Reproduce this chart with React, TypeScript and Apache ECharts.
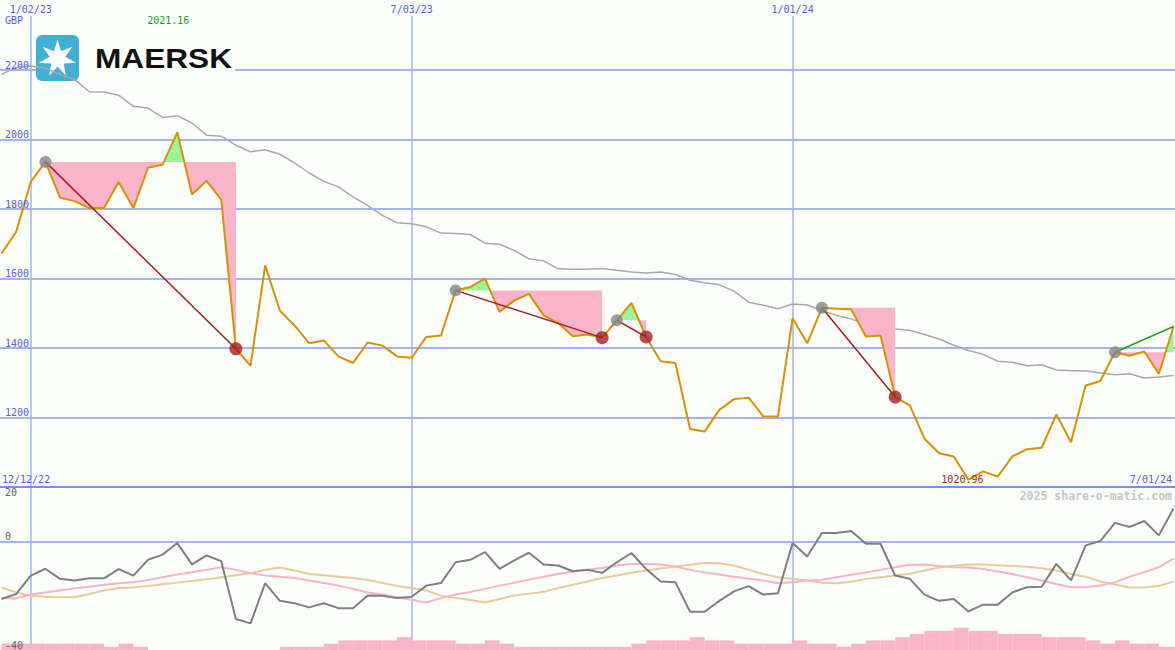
import React, { useEffect, useRef } from 'react';
import * as echarts from 'echarts';

// weekly closes (index 0..80)
const price = [
  1672, 1734, 1878, 1936, 1833, 1823, 1803, 1803, 1878, 1803,
  1919, 1928, 2021.16, 1843, 1881, 1827, 1398, 1349, 1638, 1508,
  1465, 1414, 1422, 1376, 1357, 1416, 1407, 1376, 1372, 1432,
  1436, 1566, 1576, 1600, 1504, 1537, 1556, 1494, 1472, 1434,
  1439, 1430, 1480, 1530, 1432, 1362, 1357, 1167, 1160, 1222,
  1253, 1257, 1203, 1203, 1486, 1414, 1516, 1513, 1512, 1433,
  1436, 1259, 1235, 1139, 1097, 1088, 1020.96, 1045, 1030, 1088,
  1109, 1113, 1209, 1129, 1292, 1305, 1388, 1378, 1390, 1326, 1462,
];
const movingAvg = [
  2188, 2208, 2212, 2206, 2188, 2173, 2138, 2137, 2128, 2096,
  2091, 2064, 2069, 2048, 2013, 2010, 1984, 1965, 1971, 1958,
  1933, 1904, 1880, 1864, 1835, 1810, 1782, 1761, 1758, 1749,
  1731, 1730, 1727, 1702, 1699, 1681, 1657, 1651, 1628, 1627,
  1627, 1629, 1624, 1619, 1616, 1619, 1612, 1595, 1588, 1582,
  1564, 1532, 1523, 1513, 1527, 1524, 1508, 1494, 1484, 1468,
  1471, 1455, 1451, 1439, 1426, 1408, 1393, 1382, 1362, 1359,
  1349, 1352, 1337, 1335, 1335, 1328, 1323, 1326, 1314, 1317, 1321,
];
const momentum = [
  -21.2, -19.4, -12.6, -10.1, -13.8, -14.4, -13.6, -13.6, -10.2, -12.6,
  -6.8, -4.9, -0.6, -8.5, -5.2, -7.3, -28.6, -30.2, -15.4, -21.9,
  -22.8, -24.3, -22.8, -24.6, -24.6, -19.9, -20.0, -20.9, -20.4, -16.3,
  -15.3, -7.7, -6.8, -4.0, -10.1, -7.0, -4.2, -8.5, -8.9, -11.0,
  -10.5, -11.6, -7.7, -4.3, -10.2, -14.8, -15.1, -25.9, -25.9, -21.9,
  -18.4, -16.5, -19.6, -19.1, -0.6, -5.6, 3.1, 3.1, 3.8, -0.9,
  -0.9, -12.6, -13.8, -19.6, -21.9, -21.2, -25.8, -23.3, -23.3, -18.8,
  -16.9, -16.7, -8.3, -14.4, -1.5, 0.1, 6.8, 5.3, 7.5, 2.2, 12.1,
];
const signalPink = [
  -20.9, -21.0, -19.6, -18.8, -18.1, -17.3, -16.7, -16.0, -15.4, -15.1,
  -14.2, -13.2, -12.2, -11.4, -10.5, -9.5, -10.5, -11.7, -12.6, -13.0,
  -13.5, -14.4, -15.3, -16.3, -17.5, -18.8, -19.6, -20.6, -21.6, -22.5,
  -20.9, -19.6, -18.6, -17.5, -16.3, -15.3, -14.1, -13.0, -12.0, -11.1,
  -10.5, -9.8, -8.9, -8.3, -8.3, -8.5, -9.3, -10.5, -11.5, -12.2,
  -13.0, -13.8, -14.4, -15.4, -15.1, -14.4, -14.1, -13.2, -12.3, -11.5,
  -10.5, -9.5, -8.6, -8.5, -9.1, -9.5, -9.6, -10.2, -11.1, -12.0,
  -13.2, -14.4, -15.7, -16.9, -16.9, -16.3, -15.1, -13.0, -11.4, -9.5, -6.4,
];
const signalTan = [
  -17.0, -18.8, -20.0, -20.4, -20.6, -20.6, -19.4, -18.1, -17.2, -17.0,
  -16.4, -15.8, -15.2, -14.6, -14.0, -13.2, -12.5, -11.7, -10.5, -9.6,
  -10.7, -12.0, -12.5, -13.0, -13.5, -14.2, -15.3, -16.4, -17.2, -18.1,
  -20.0, -20.9, -21.6, -22.5, -21.2, -19.9, -19.3, -18.6, -17.2, -16.0,
  -14.8, -13.5, -12.6, -11.6, -10.7, -10.0, -9.3, -8.6, -8.0, -8.1,
  -8.9, -10.5, -12.0, -13.2, -13.8, -14.4, -15.2, -15.4, -14.9, -13.9,
  -13.2, -12.6, -11.9, -10.7, -9.6, -9.0, -8.5, -8.5, -8.8, -9.1,
  -9.4, -9.9, -10.7, -12.0, -13.0, -14.8, -15.9, -17.0, -17.0, -16.4, -14.8,
];
const volumeLevel = [
  2, 2, 2, 2, 2, 2, 2, 1, 2, 1,
  0, 0, 0, 0, 0, 0, 0, 0, 0, 1,
  1, 1, 2, 3, 3, 3, 3, 4, 3, 3,
  3, 2, 2, 3, 2, 1, 1, 1, 1, 1,
  1, 1, 1, 2, 3, 3, 3, 4, 3, 3,
  2, 2, 2, 2, 3, 2, 2, 1, 2, 3,
  3, 4, 5, 6, 6, 7, 6, 6, 5, 5,
  5, 4, 4, 4, 3, 2, 3, 2, 2, 1, 1,
];
const tradeEntry = [3, 31, 42, 56, 76];
const tradeExit = [16, 41, 44, 61, 80];
const tradeOpen = [false, false, false, false, true];
const priceGrid = [1200, 1400, 1600, 1800, 2000, 2200];
const dateIndex = [2, 28, 54];
const dateLabels = ['1/02/23', '7/03/23', '1/01/24'];
const startLabel = '12/12/22';
const endLabel = '7/01/24';

const BLUE = '#5a5af0';
const GRID = '#a4b2f2';
const MONO = 'DejaVu Sans Mono';
const RED = '#a31f1f';
const BG = '#fcfefc';

function starPoints(cx: number, cy: number, R: number, r: number) {
  const pts: number[][] = [];
  for (let k = 0; k < 14; k++) {
    const a = -Math.PI / 2 + (k * Math.PI) / 7;
    const rad = k % 2 === 0 ? R : r;
    pts.push([cx + rad * Math.cos(a), cy + rad * Math.sin(a)]);
  }
  return pts;
}

function buildOption() {
  const idx = price.map((_, i) => i);
  const trades = tradeEntry.map((s, k) => [s, tradeExit[k], price[s]]);

  const fillSeries = {
    type: 'custom',
    xAxisIndex: 0,
    yAxisIndex: 0,
    z: 3,
    silent: true,
    data: trades,
    renderItem: (_p: any, api: any) => {
      const s = api.value(0);
      const e = api.value(1);
      const lvl = api.value(2);
      const pts: number[][] = [];
      for (let j = s; j <= e; j++) {
        pts.push([j, price[j]]);
        if (j < e) {
          const a = price[j] - lvl;
          const b = price[j + 1] - lvl;
          if (a * b < 0) pts.push([j + a / (a - b), lvl]);
        }
      }
      const low = [[s, lvl], ...pts.map((p) => [p[0], Math.min(p[1], lvl)]), [e, lvl]].map((p) => api.coord(p));
      const high = [[s, lvl], ...pts.map((p) => [p[0], Math.max(p[1], lvl)]), [e, lvl]].map((p) => api.coord(p));
      return {
        type: 'group',
        children: [
          { type: 'polygon', shape: { points: low }, style: { fill: '#f9b4c9' } },
          { type: 'polygon', shape: { points: high }, style: { fill: '#9af59a' } },
        ],
      };
    },
  };

  const tradeLines = tradeEntry.map((s, k) => ({
    type: 'line',
    xAxisIndex: 0,
    yAxisIndex: 0,
    z: 5,
    silent: true,
    showSymbol: false,
    data: [[s, price[s]], [tradeExit[k], price[tradeExit[k]]]],
    lineStyle: { color: tradeOpen[k] ? '#22a022' : RED, width: 1.5 },
  }));

  const bars = {
    type: 'custom',
    xAxisIndex: 1,
    yAxisIndex: 2,
    z: 1,
    silent: true,
    data: volumeLevel.map((v, i) => [i, v]),
    renderItem: (_p: any, api: any) => {
      const i = api.value(0);
      const v = api.value(1);
      const a = api.coord([i, v]);
      const b = api.coord([i + 1, 0]);
      return { type: 'rect', shape: { x: a[0], y: a[1], width: b[0] - a[0], height: b[1] - a[1] }, style: { fill: '#f9b4c9' } };
    },
  };

  const monoLabel = { fontFamily: MONO, fontSize: 10 };

  return {
    animation: false,
    backgroundColor: BG,
    grid: [
      { left: 0, right: 0, top: 16, height: 471 },
      { left: 0, right: 0, top: 487, height: 163 },
    ],
    xAxis: [
      { gridIndex: 0, type: 'value', min: -0.1, max: 80.1, show: false },
      {
        gridIndex: 1, type: 'value', min: -0.1, max: 80.1, position: 'top',
        axisLine: { show: true, onZero: false, lineStyle: { color: '#7b8bef', width: 2 } },
        axisTick: { show: false }, axisLabel: { show: false }, splitLine: { show: false },
      },
    ],
    yAxis: [
      {
        gridIndex: 0, type: 'value', min: 1000, max: 2356, interval: 200, z: 10,
        axisLine: { show: false }, axisTick: { show: false }, splitLine: { show: false },
        axisLabel: {
          inside: true, margin: 5, verticalAlign: 'bottom', color: BLUE, ...monoLabel,
          formatter: (v: number) => (v >= 1200 && v <= 2200 ? String(v) : ''),
        },
      },
      {
        gridIndex: 1, type: 'value', min: -40, max: 20, interval: 20, z: 10,
        axisLine: { show: false }, axisTick: { show: false }, splitLine: { show: false },
        axisLabel: {
          inside: true, margin: 5, verticalAlign: 'bottom', verticalAlignMaxLabel: 'top', color: '#606060', ...monoLabel,
          formatter: (v: number) => (v === -20 ? '' : String(v)),
        },
      },
      { gridIndex: 1, type: 'value', min: 0, max: 51, show: false },
    ],
    graphic: [
      { type: 'rect', z: 1, shape: { x: 36, y: 35, width: 199, height: 46 }, style: { fill: BG } },
      { type: 'rect', z: 1, shape: { x: 36, y: 35, width: 43, height: 46, r: 6 }, style: { fill: '#42b0d5' } },
      { type: 'polygon', z: 1, shape: { points: starPoints(57.5, 58.5, 19, 8) }, style: { fill: '#ffffff' } },
      {
        type: 'text', z: 1, x: 95, y: 58, scaleX: 1.13,
        style: { text: 'MAERSK', font: 'bold 28px "Liberation Sans"', fill: '#111111', verticalAlign: 'middle' },
      },
      { type: 'text', z: 6, x: 5, y: 20, style: { text: 'GBP', font: `10px "${MONO}"`, fill: BLUE, verticalAlign: 'middle' } },
      { type: 'text', z: 6, x: 2, y: 479, style: { text: startLabel, font: `10px "${MONO}"`, fill: BLUE, verticalAlign: 'middle' } },
      { type: 'text', z: 6, x: 1172, y: 479, style: { text: endLabel, font: `10px "${MONO}"`, fill: BLUE, align: 'right', verticalAlign: 'middle' } },
      {
        type: 'text', z: 6, x: 1172, y: 496,
        style: { text: '2025 share-o-matic.com', font: `bold 11.5px "${MONO}"`, fill: '#c6c6c6', align: 'right', verticalAlign: 'middle' },
      },
    ],
    series: [
      {
        name: 'MA',
        type: 'line',
        xAxisIndex: 0,
        yAxisIndex: 0,
        z: 2,
        silent: true,
        showSymbol: false,
        data: idx.map((i) => [i, movingAvg[i]]),
        lineStyle: { color: '#a8a8a8', width: 1.5 },
        markLine: {
          silent: true,
          z: 0,
          symbol: ['none', 'none'],
          label: { show: false },
          lineStyle: { color: GRID, width: 2, type: 'solid' },
          data: [
            ...priceGrid.map((v) => ({ yAxis: v })),
            ...dateIndex.map((x, k) => ({
              xAxis: x,
              lineStyle: { color: GRID, width: 1.5, type: 'solid' },
              label: { show: true, position: 'end', distance: 2, formatter: dateLabels[k], color: BLUE, ...monoLabel },
            })),
          ],
        },
      },
      fillSeries,
      {
        name: 'Price',
        type: 'line',
        xAxisIndex: 0,
        yAxisIndex: 0,
        z: 4,
        silent: true,
        showSymbol: false,
        data: idx.map((i) => [i, price[i]]),
        lineStyle: { color: '#d99100', width: 2 },
        markPoint: {
          symbol: 'circle',
          symbolSize: 0,
          data: [
            { type: 'max', label: { offset: [-9, -112], color: '#1f9a1f' } },
            { type: 'min', label: { offset: [-6, 0], color: RED } },
          ],
          label: {
            show: true, position: 'inside', ...monoLabel,
            formatter: (p: any) => Number(p.value).toFixed(2),
          },
        },
      },
      ...tradeLines,
      {
        type: 'scatter', xAxisIndex: 0, yAxisIndex: 0, z: 6, silent: true,
        symbolSize: 12,
        itemStyle: { color: '#858585' },
        data: tradeEntry.map((s) => [s, price[s]]),
      },
      {
        type: 'scatter', xAxisIndex: 0, yAxisIndex: 0, z: 6, silent: true,
        symbolSize: 13,
        itemStyle: { color: RED },
        data: tradeExit.filter((_, k) => !tradeOpen[k]).map((e) => [e, price[e]]),
      },
      bars,
      {
        type: 'line', xAxisIndex: 1, yAxisIndex: 1, z: 2, silent: true, showSymbol: false,
        data: idx.map((i) => [i, signalTan[i]]),
        lineStyle: { color: '#e6cc9a', width: 2 },
      },
      {
        type: 'line', xAxisIndex: 1, yAxisIndex: 1, z: 2, silent: true, showSymbol: false,
        data: idx.map((i) => [i, signalPink[i]]),
        lineStyle: { color: '#f8b2c8', width: 2 },
      },
      {
        type: 'line', xAxisIndex: 1, yAxisIndex: 1, z: 3, silent: true, showSymbol: false,
        data: idx.map((i) => [i, momentum[i]]),
        lineStyle: { color: '#7f7f7f', width: 2 },
        markLine: {
          silent: true,
          z: 0,
          symbol: ['none', 'none'],
          label: { show: false },
          lineStyle: { color: GRID, width: 2, type: 'solid' },
          data: [
            { yAxis: 0 },
            ...dateIndex.map((x) => ({ xAxis: x, lineStyle: { color: GRID, width: 1.5, type: 'solid' } })),
          ],
        },
      },
    ],
  };
}

export default function App() {
  const ref = useRef<HTMLDivElement>(null);
  useEffect(() => {
    if (!ref.current) return;
    const chart = echarts.init(ref.current, null, { renderer: 'svg' });
    chart.setOption(buildOption() as any);
    return () => chart.dispose();
  }, []);
  return <div ref={ref} style={{ position: 'fixed', left: 0, top: 0, width: 1175, height: 650 }} />;
}
